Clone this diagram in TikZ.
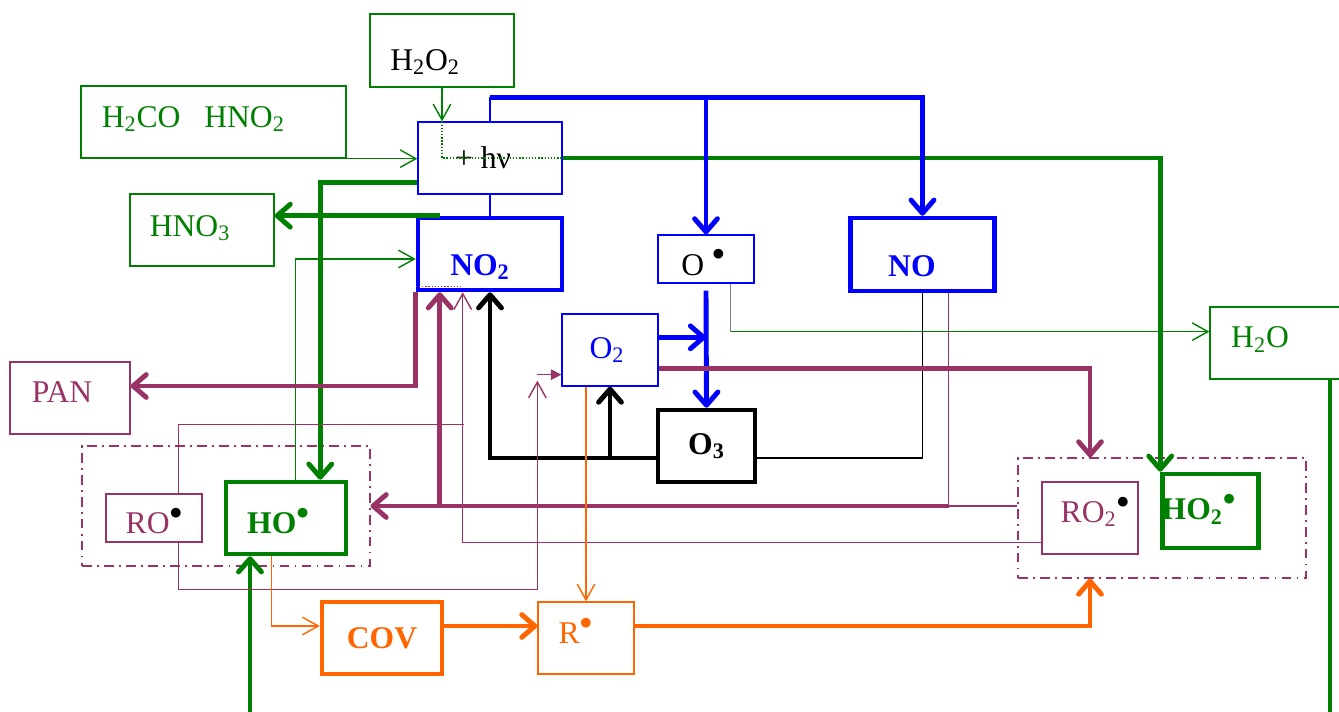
\documentclass[tikz,border=0pt]{standalone}
\usepackage{fontspec}
\setmainfont{Liberation Serif}
\usetikzlibrary{arrows.meta,calc}
\definecolor{grn}{HTML}{008000}
\definecolor{blu}{HTML}{0000FF}
\definecolor{pur}{HTML}{993366}
\definecolor{org}{HTML}{FF6600}
\tikzset{
  box/thin/.style={draw=#1, line width=0.75pt, inner sep=0pt},
  box/thick/.style={draw=#1, line width=2.6pt, inner sep=0pt},
  box/group/.style={draw=pur, line width=0.75pt, dash pattern=on 5.5pt off 3pt on 1pt off 3pt, inner sep=0pt},
  lbl/.style={font=\fontsize{18}{20}\selectfont, inner sep=0pt, text=#1},
  lbl/.default=black,
  blbl/.style={lbl=#1, font=\fontsize{18}{20}\selectfont\bfseries},
  blbl/.default=black,
  ln/thin/.style={line width=0.8pt},
  ln/thick/.style={line width=2.8pt},
  tarr/.style={ln/thin, -{Straight Barb[length=9pt,width=10pt]}},
  karr/.style={ln/thick, -{Straight Barb[length=7.5pt,width=13pt,round]}},
  farr/.style={ln/thin, -{Triangle[length=6pt,width=6pt]}}
}
\newcommand{\rad}{\raisebox{8pt}{\fontsize{14}{14}\selectfont$\bullet$}}

\begin{document}
\begin{tikzpicture}[x=0.02cm, y=-0.02cm]
  \useasboundingbox (0,0) rectangle (1339,712);
  % species
  \node[box/thin=grn, minimum width=2.88cm, minimum height=1.46cm,
    label={[lbl=black, xshift=-9.6pt, yshift=-6.5pt]center:H\textsubscript{2}O\textsubscript{2}}] (h2o2) at (442,50.5) {};
  \node[box/thin=grn, minimum width=5.3cm, minimum height=1.44cm,
    label={[lbl=grn, xshift=-11.5pt, yshift=1.7pt]center:H\textsubscript{2}CO\hspace{0.75em}HNO\textsubscript{2}}] (h2co) at (213.5,122) {};
  \node[box/thin=blu, minimum width=2.88cm, minimum height=1.44cm,
    label={[lbl=black, xshift=-4pt]center:+ hν}] (hv) at (490,158) {};
  \node[box/thin=grn, minimum width=2.88cm, minimum height=1.44cm,
    label={[lbl=grn, xshift=-6.8pt, yshift=1pt]center:HNO\textsubscript{3}}] (hno3) at (202,230) {};
  \node[box/thick=blu, minimum width=2.88cm, minimum height=1.44cm,
    label={[blbl=blu, xshift=-5.7pt, yshift=-7.4pt]center:NO\textsubscript{2}}] (no2) at (490,254) {};
  \node[box/thin=blu, minimum width=1.92cm, minimum height=0.96cm,
    label={[lbl=black, xshift=-1.7pt, yshift=-2pt]center:O \rad}] (orad) at (706,259) {};
  \node[box/thick=blu, minimum width=2.88cm, minimum height=1.46cm,
    label={[blbl=blu, xshift=-6pt, yshift=-6.5pt]center:NO}] (no) at (922.5,254.5) {};
  \node[box/thin=blu, minimum width=1.92cm, minimum height=1.44cm,
    label={[lbl=blu, xshift=-1.7pt]center:O\textsubscript{2}}] (o2) at (610,350) {};
  \node[box/thick=black, minimum width=1.94cm, minimum height=1.44cm,
    label={[blbl=black]center:O\textsubscript{3}}] (o3) at (706.5,446) {};
  \node[box/thin=grn, minimum width=2.88cm, minimum height=1.44cm,
    label={[lbl=grn, xshift=-12.5pt, yshift=2pt]center:H\textsubscript{2}O}] (h2o) at (1282,343) {};
  \node[box/thin=pur, minimum width=2.4cm, minimum height=1.44cm,
    label={[lbl=pur, xshift=-4.5pt, yshift=3.4pt]center:PAN}] (pan) at (70,398) {};
  \node[box/group, minimum width=5.76cm, minimum height=2.4cm] (lgrp) at (226,506) {};
  \node[box/thin=pur, minimum width=1.92cm, minimum height=0.96cm,
    label={[lbl=pur, yshift=-1.5pt]center:RO{\color{black}\rad}}] (ro) at (154,518) {};
  \node[box/thick=grn, minimum width=2.4cm, minimum height=1.44cm,
    label={[blbl=grn, xshift=-4.5pt, yshift=-1.5pt]center:HO\rad}] (ho) at (286,518) {};
  \node[box/thick=org, minimum width=2.4cm, minimum height=1.44cm,
    label={[blbl=org]center:COV}] (cov) at (382,638) {};
  \node[box/thin=org, minimum width=1.92cm, minimum height=1.44cm,
    label={[lbl=org, xshift=-6pt, yshift=4pt]center:R\rad}] (rrad) at (586,638) {};
  \node[box/group, minimum width=5.76cm, minimum height=2.4cm] (rgrp) at (1162,518) {};
  \node[box/thin=pur, minimum width=1.92cm, minimum height=1.44cm,
    label={[lbl=pur, xshift=2.8pt, yshift=3.4pt]center:RO\textsubscript{2}{\color{black}\rad}}] (ro2) at (1090,518) {};
  \node[box/thick=grn, minimum width=1.92cm, minimum height=1.48cm,
    label={[blbl=grn, xshift=-6.8pt, yshift=1pt]center:HO\textsubscript{2}\rad}] (ho2) at (1210.5,511) {};

  % free ends and bends
  \coordinate (blutop) at ($(hv.north)+(0,-24)$);
  \coordinate (obend) at ($(orad.south east)+(-24,48)$);
  \coordinate (nobr) at ($(no.south east)+(-48,0)$);
  \coordinate (hoin) at (250,712);
  \coordinate (h2oout) at (1330,712);

  % green
  \draw[tarr, grn] (h2o2.south) -- (h2o2.south |- hv.north);
  \draw[ln/thin, grn, densely dotted] (h2o2.south |- hv.north) |- (hv.east);
  \draw[tarr, grn] (h2co.south east) -- (h2co.south east -| hv.west);
  \draw[karr, grn] (hv.east) -| (ho2.north west);
  \draw[karr, grn] ($(hv.south west)+(0,-12)$) -| ($(ho.north east)+(-28,0)$);
  \draw[karr, grn] ($(no2.north west)+(24,0)$) -- (no2.north west -| hno3.east);
  \draw[tarr, grn] ($(ho.north west)+(72,0)$) |- ($(no2.west)+(0,5)$);
  \draw[karr, grn] (hoin) -- (hoin |- ho.south);
  \draw[ln/thick, grn] (h2oout |- h2o.south) -- (h2oout);

  % blue
  \draw[ln/thin, blu] (hv.north) -- (blutop);
  \draw[ln/thin, blu] (hv.south) -- (no2.north);
  \draw[karr, blu] (blutop) -| (no.north);
  \draw[karr, blu] (blutop -| orad.north) -- (orad.north);
  \draw[karr, blu] ($(orad.south)+(0,7)$) -- (o3.north);
  \draw[karr, blu] ($(o2.north east)+(0,24)$) -- ($(orad.south |- o2.north)+(0,24)$);
  \draw[ln/thin, gray] ($(orad.south east)+(-24,0)$) -- (obend);
  \draw[tarr, grn] (obend) -- (obend -| h2o.west);

  % black
  \draw[karr, black] ($(o3.west)+(0,12)$) -| (no2.south);
  \draw[karr, black] ($(o2.south |- o3.west)+(0,12)$) -- (o2.south);
  \draw[ln/thin, black] ($(o3.east)+(0,12)$) -| (no.south);

  % purple
  \draw[karr, pur] ($(o2.south east)+(0,-18)$) -| (ro2.north |- rgrp.north);
  \draw[karr, pur] (no2.south west) |- ($(pan.east)+(0,-12)$);
  \draw[ln/thin, pur, densely dotted] ($(no2.south west)+(0,-6)$) -- ($(no2.south west)+(47,-6)$);
  \draw[ln/thin, pur] (nobr) -- (nobr |- lgrp.east) -- (rgrp.west |- lgrp.east);
  \draw[karr, pur] (nobr |- lgrp.east) -- (lgrp.east);
  \draw[karr, pur] ($(no2.south west |- lgrp.east)+(24,0)$) -- ($(no2.south west)+(24,0)$);
  \draw[tarr, pur] ($(ro2.south west)+(0,-12)$) -| ($(no2.south west)+(47,0)$);
  \draw[ln/thin, pur] ($(ro.north east)+(-24,0)$) |- ($(no2.south west)+(48,132)$);
  \draw[tarr, pur] ($(ro.south east)+(-24,0)$) |- ($(rrad.north west)+(0,-12)$) -- ($(o2.south west)+(-24,-6)$);
  \draw[farr, pur] ($(o2.south west)+(-24,-12)$) -- ($(o2.south west)+(0,-12)$);

  % orange
  \draw[tarr, org] (rrad.north |- o2.south) -- (rrad.north);
  \draw[tarr, org] ($(ho.south west)+(48,0)$) |- ($(cov.west)+(0,-12)$);
  \draw[karr, org] ($(cov.east)+(0,-12)$) -- ($(rrad.west)+(0,-12)$);
  \draw[karr, org] ($(rrad.east)+(0,-12)$) -| (ro2.south |- rgrp.south);
\end{tikzpicture}
\end{document}
